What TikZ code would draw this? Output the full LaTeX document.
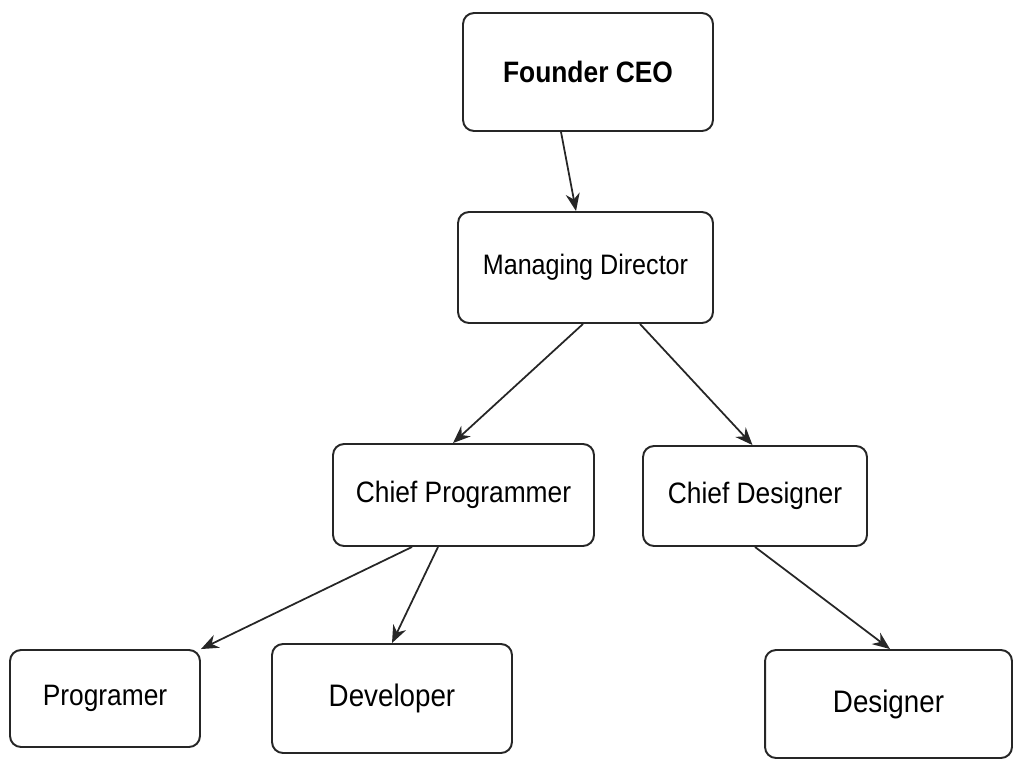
\documentclass[tikz,border=0pt]{standalone}
\usepackage{fontspec}
\setmainfont{Liberation Sans}
\usetikzlibrary{arrows.meta}
\newcommand\tallt[1]{\scalebox{1}[1.12]{#1}}
\tikzset{
  box/.style={draw=black!85, line width=1.1pt, rounded corners=0.22cm, fill=white, inner sep=0pt, font=\fontsize{15}{18}\selectfont},
  link/.style={draw=black!85, line width=1pt, -{Stealth[length=10pt,width=8pt]}}
}
\begin{document}
\begin{tikzpicture}[x=0.02cm,y=-0.02cm]
\useasboundingbox (0,0) rectangle (1014,758);
\node[box, minimum width=5cm, minimum height=2.36cm, font=\fontsize{15}{18}\selectfont\bfseries] (ceo) at (588,72) {\tallt{Founder CEO}};
\node[box, minimum width=5.1cm, minimum height=2.22cm, font=\fontsize{14.3}{18}\selectfont] (md) at (585.5,267.5) {\tallt{Managing Director}};
\node[box, minimum width=5.22cm, minimum height=2.04cm] (cp) at (463.5,495) {\tallt{Chief Programmer}};
\node[box, minimum width=4.48cm, minimum height=2.0cm] (cd) at (755,496) {\tallt{Chief Designer}};
\node[box, minimum width=3.8cm, minimum height=1.94cm] (prog) at (105,698.5) {\tallt{Programer}};
\node[box, minimum width=4.8cm, minimum height=2.18cm, font=\fontsize{15.8}{18}\selectfont] (dev) at (392,698.5) {\tallt{Developer}};
\node[box, minimum width=4.94cm, minimum height=2.16cm, font=\fontsize{15.8}{18}\selectfont] (des) at (888.5,704) {\tallt{Designer}};
\draw[link] ([xshift=-0.54cm]ceo.south) -- ([xshift=-0.19cm]md.north);
\draw[link] ([xshift=-0.05cm]md.south) -- ([xshift=-0.21cm]cp.north);
\draw[link] ([xshift=1.09cm]md.south) -- ([xshift=-0.05cm]cd.north);
\draw[link] ([xshift=-1.03cm]cp.south) -- (prog.north east);
\draw[link] ([xshift=-0.51cm]cp.south) -- (dev.north);
\draw[link] (cd.south) -- ([xshift=0.03cm]des.north);
\end{tikzpicture}
\end{document}
